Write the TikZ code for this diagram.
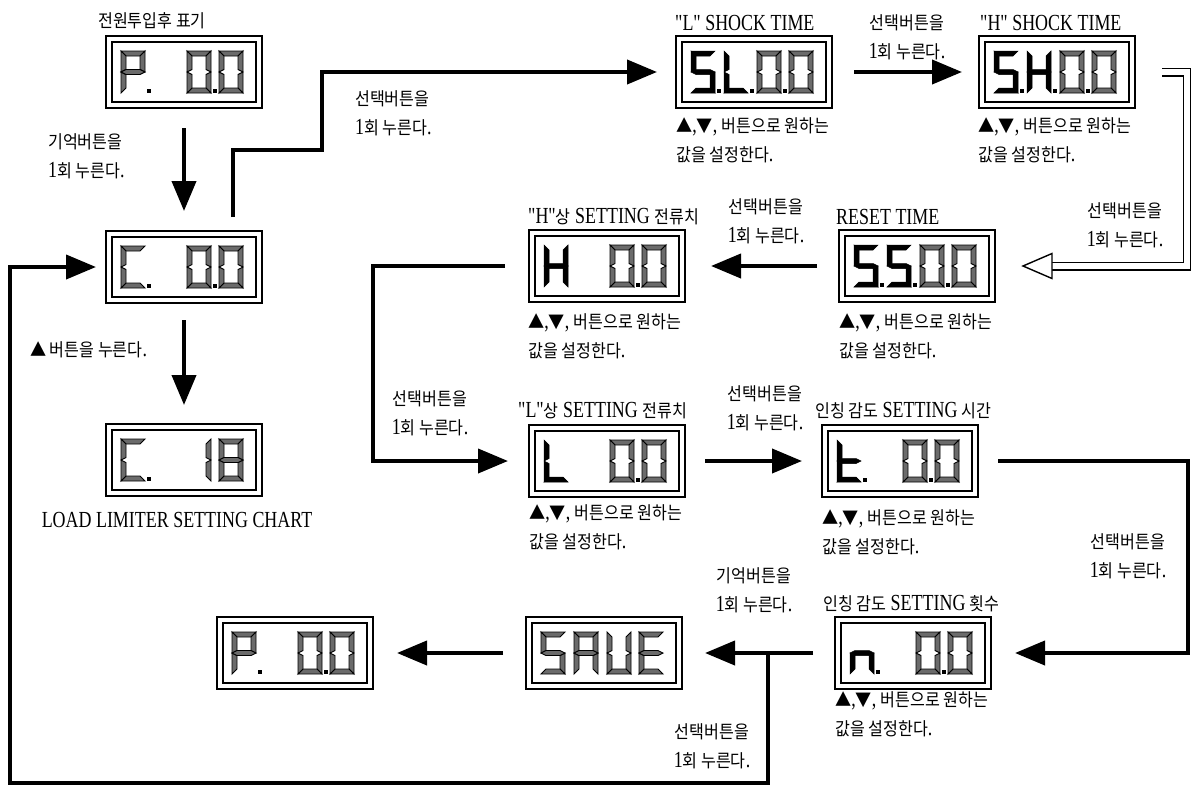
\documentclass[tikz,border=0pt]{standalone}
\usepackage{fontspec}
\setmainfont{Liberation Serif}[FakeStretch=0.78]
\newfontfamily\qfont{Liberation Serif}[FakeStretch=0.78]
\newfontfamily\krfont{Noto Sans CJK KR}[Scale=0.78,FakeStretch=0.9]
\newcommand\K[1]{{\krfont #1}}
\newcommand\q{{\qfont"}}
\usetikzlibrary{arrows.meta}

% seven-segment geometry
\def\sgW{24}\def\sgH{42}\def\sgT{5}\def\sgM{21}
\def\sega{(0,0) -- (\sgW,0) -- (\sgW-\sgT,\sgT) -- (\sgT,\sgT) -- cycle}
\def\segb{(\sgW,0) -- (\sgW,\sgM) -- (\sgW-\sgT,\sgM-\sgT/2) -- (\sgW-\sgT,\sgT) -- cycle}
\def\segc{(\sgW,\sgM) -- (\sgW,\sgH) -- (\sgW-\sgT,\sgH-\sgT) -- (\sgW-\sgT,\sgM+\sgT/2) -- cycle}
\def\segd{(0,\sgH) -- (\sgT,\sgH-\sgT) -- (\sgW-\sgT,\sgH-\sgT) -- (\sgW,\sgH) -- cycle}
\def\sege{(0,\sgM) -- (\sgT,\sgM+\sgT/2) -- (\sgT,\sgH-\sgT) -- (0,\sgH) -- cycle}
\def\segf{(0,0) -- (\sgT,\sgT) -- (\sgT,\sgM-\sgT/2) -- (0,\sgM) -- cycle}
\def\segg{(0,\sgM) -- (\sgT,\sgM-\sgT/2) -- (\sgW-\sgT,\sgM-\sgT/2) -- (\sgW,\sgM) -- (\sgW-\sgT,\sgM+\sgT/2) -- (\sgT,\sgM+\sgT/2) -- cycle}

\def\gZero{a,b,c,d,e,f}
\def\gP{a,b,e,f,g}
\def\gC{a,d,e,f}
\def\gOne{b,c}
\def\gEight{a,b,c,d,e,f,g}
\def\gFive{a,c,d,f,g}
\def\gL{d,e,f}
\def\gH{b,c,e,f,g}
\def\gT{d,e,f,g}
\def\gN{c,e,g}
\def\gA{a,b,c,e,f,g}
\def\gU{b,c,d,e,f}
\def\gE{a,d,e,f,g}

\newcommand\dg[3]{\begin{scope}[shift={(#1,15)}]\edef\seglist{#2}%
  \foreach \s in \seglist {\edef\tmp{\noexpand\path[#3] \csname seg\s\endcsname;}\tmp}%
  \end{scope}}
\newcommand\dt[1]{\fill[black] (#1+\sgW+2,53) rectangle ++(4,4);}
\newcommand\disp[3]{%
  \node[dispbox] (#1) at (#2) {};
  \draw[line width=1.4pt] ([shift={(6,6)}]#1.north west) rectangle ([shift={(-6,-6)}]#1.south east);
  \begin{scope}[shift={(#1.north west)}]#3\end{scope}}

\begin{document}
\begin{tikzpicture}[x=1pt,y=-1pt,
  dispbox/.style={draw, line width=1.4pt, minimum width=156pt, minimum height=72pt, inner sep=0pt, outer sep=0pt},
  segol/.style={fill=black!58, draw=black, line width=0.9pt},
  segsd/.style={fill=black, draw=black, line width=0.5pt},
  lab/.style={font=\fontsize{23}{29}\selectfont, inner sep=0pt, align=center},
  labl/.style={lab, align=left, anchor=west},
  conn/.style={line width=4pt, -{Triangle[length=30pt,width=24pt]}},
  dbl/.style={double, double distance=6pt, line width=1.5pt},
]
\useasboundingbox (0,0) rectangle (1191,787);

% displays
\disp{p1}{184,72}{\dg{15}{\gP}{segol}\dt{15}\dg{81}{\gZero}{segol}\dt{81}\dg{113}{\gZero}{segol}}
\disp{c0}{184,267}{\dg{15}{\gC}{segol}\dt{15}\dg{81}{\gZero}{segol}\dt{81}\dg{113}{\gZero}{segol}}
\disp{c18}{184,460}{\dg{15}{\gC}{segol}\dt{15}\dg{81}{\gOne}{segol}\dg{113}{\gEight}{segol}}
\disp{sl}{754,72}{\dg{15}{\gFive}{segsd}\dt{15}\dg{48}{\gL}{segsd}\dt{48}\dg{81}{\gZero}{segol}\dt{81}\dg{113}{\gZero}{segol}}
\disp{sh}{1057,72}{\dg{15}{\gFive}{segsd}\dt{15}\dg{48}{\gH}{segsd}\dt{48}\dg{81}{\gZero}{segol}\dt{81}\dg{113}{\gZero}{segol}}
\disp{h}{607,266}{\dg{15}{\gH}{segsd}\dg{81}{\gZero}{segol}\dt{81}\dg{113}{\gZero}{segol}}
\disp{ss}{917,266}{\dg{15}{\gFive}{segsd}\dt{15}\dg{48}{\gFive}{segsd}\dt{48}\dg{81}{\gZero}{segol}\dt{81}\dg{113}{\gZero}{segol}}
\disp{l}{607,461}{\dg{15}{\gL}{segsd}\dg{81}{\gZero}{segol}\dt{81}\dg{113}{\gZero}{segol}}
\disp{t}{900,461}{\dg{15}{\gT}{segsd}\dt{15}\dg{81}{\gZero}{segol}\dt{81}\dg{113}{\gZero}{segol}}
\disp{n}{913,653}{\dg{15}{\gN}{segsd}\dt{15}\dg{81}{\gZero}{segol}\dt{81}\dg{113}{\gZero}{segol}}
\disp{sv}{604,653}{\dg{15}{\gFive}{segol}\dg{48}{\gA}{segol}\dg{81}{\gU}{segol}\dg{113}{\gE}{segol}}
\disp{p2}{295,653}{\dg{15}{\gP}{segol}\dt{15}\dg{81}{\gZero}{segol}\dt{81}\dg{113}{\gZero}{segol}}

% connectors
\draw[conn] ([shift={(0,20)}]p1.south) -- ([shift={(0,-20)}]c0.north);
\draw[conn] ([shift={(0,17)}]c0.south) -- ([shift={(0,-19)}]c18.north);
\draw[conn] ([shift={(49,-14)}]c0.north) -- ++(0,-67) -- ++(89,0) |- ([shift={(-19,0)}]sl.west);
\draw[conn] ([shift={(22,0)}]sl.east) -- ([shift={(-17,0)}]sh.west);
\coordinate (ssarrow) at ([shift={(28,0)}]ss.east);
\draw[dbl] ([shift={(27,0)}]sh.east) -- ++(25,0) |- ([shift={(29,0)}]ssarrow);
\draw[line width=1.4pt, fill=white, line join=miter] (ssarrow) -- ++(29,-12.5) -- ++(0,25) -- cycle;
\draw[conn] ([shift={(-22,0)}]ss.west) -- ([shift={(26,0)}]h.east);
\draw[conn] ([shift={(-24,0)}]h.west) -- ++(-132,0) |- ([shift={(-21,0)}]l.west);
\draw[conn] ([shift={(20,0)}]l.east) -- ([shift={(-20,0)}]t.west);
\draw[conn] ([shift={(20,0)}]t.east) -- ++(190,0) |- ([shift={(24,0)}]n.east);
\coordinate (jn) at ([shift={(86,0)}]sv.east);
\draw[conn] ([shift={(-22,0)}]n.west) -- ([shift={(23,0)}]sv.east);
\draw[conn] ([shift={(-23,0)}]sv.west) -- ([shift={(24,0)}]p2.east);
\draw[conn] (jn) -- ++(0,130) -- ++(-758,0) |- ([shift={(-10,0)}]c0.west);

% titles
\node[lab, anchor=west] (tp1) at (98,21) {\K{전원투입후 표기}};
\node[lab, anchor=west] (tsl) at (675,23) {\q L\q{} SHOCK TIME};
\node[lab, anchor=west] (tsh) at (980,23) {\q H\q{} SHOCK TIME};
\node[lab, anchor=west] (th) at (528,217) {\q H\q\K{상} SETTING \K{전류치}};
\node[lab, anchor=west] (tss) at (836,217) {RESET TIME};
\node[lab, anchor=west] (tl) at (518,411) {\q L\q\K{상} SETTING \K{전류치}};
\node[lab, anchor=west] (tt) at (815,411) {\K{인칭 감도} SETTING \K{시간}};
\node[lab, anchor=west] (tn) at (823,604) {\K{인칭 감도} SETTING \K{횟수}};
\node[lab] (chart) at (177,520) {LOAD LIMITER SETTING CHART};

% action labels
\node[labl] (a1) at (48,156) {\K{기억버튼을}\\1\K{회 누른다}.};
\node[lab, anchor=west] (a2) at (30,350) {\K{▲ 버튼을 누른다}.};
\node[labl] (a3) at (355,113) {\K{선택버튼을}\\1\K{회 누른다}.};
\node[lab] (a4) at (907,37) {\K{선택버튼을}\\1\K{회 누른다}.};
\node[lab] (a5) at (1125,225) {\K{선택버튼을}\\1\K{회 누른다}.};
\node[lab] (a6) at (766,221) {\K{선택버튼을}\\1\K{회 누른다}.};
\node[lab] (a7) at (430,413) {\K{선택버튼을}\\1\K{회 누른다}.};
\node[lab] (a8) at (765,408) {\K{선택버튼을}\\1\K{회 누른다}.};
\node[lab] (a9) at (1128,556) {\K{선택버튼을}\\1\K{회 누른다}.};
\node[lab] (a10) at (754,590) {\K{기억버튼을}\\1\K{회 누른다}.};
\node[lab] (a11) at (712,746) {\K{선택버튼을}\\1\K{회 누른다}.};

% set-value notes
\node[labl] (u1) at (676,140) {\K{▲},\K{▼}, \K{버튼으로 원하는}\\\K{값을 설정한다}.};
\node[labl] (u2) at (978,140) {\K{▲},\K{▼}, \K{버튼으로 원하는}\\\K{값을 설정한다}.};
\node[labl] (u3) at (528,336) {\K{▲},\K{▼}, \K{버튼으로 원하는}\\\K{값을 설정한다}.};
\node[labl] (u4) at (839,336) {\K{▲},\K{▼}, \K{버튼으로 원하는}\\\K{값을 설정한다}.};
\node[labl] (u5) at (529,527) {\K{▲},\K{▼}, \K{버튼으로 원하는}\\\K{값을 설정한다}.};
\node[labl] (u6) at (822,532) {\K{▲},\K{▼}, \K{버튼으로 원하는}\\\K{값을 설정한다}.};
\node[labl] (u7) at (835,714) {\K{▲},\K{▼}, \K{버튼으로 원하는}\\\K{값을 설정한다}.};
\end{tikzpicture}
\end{document}
